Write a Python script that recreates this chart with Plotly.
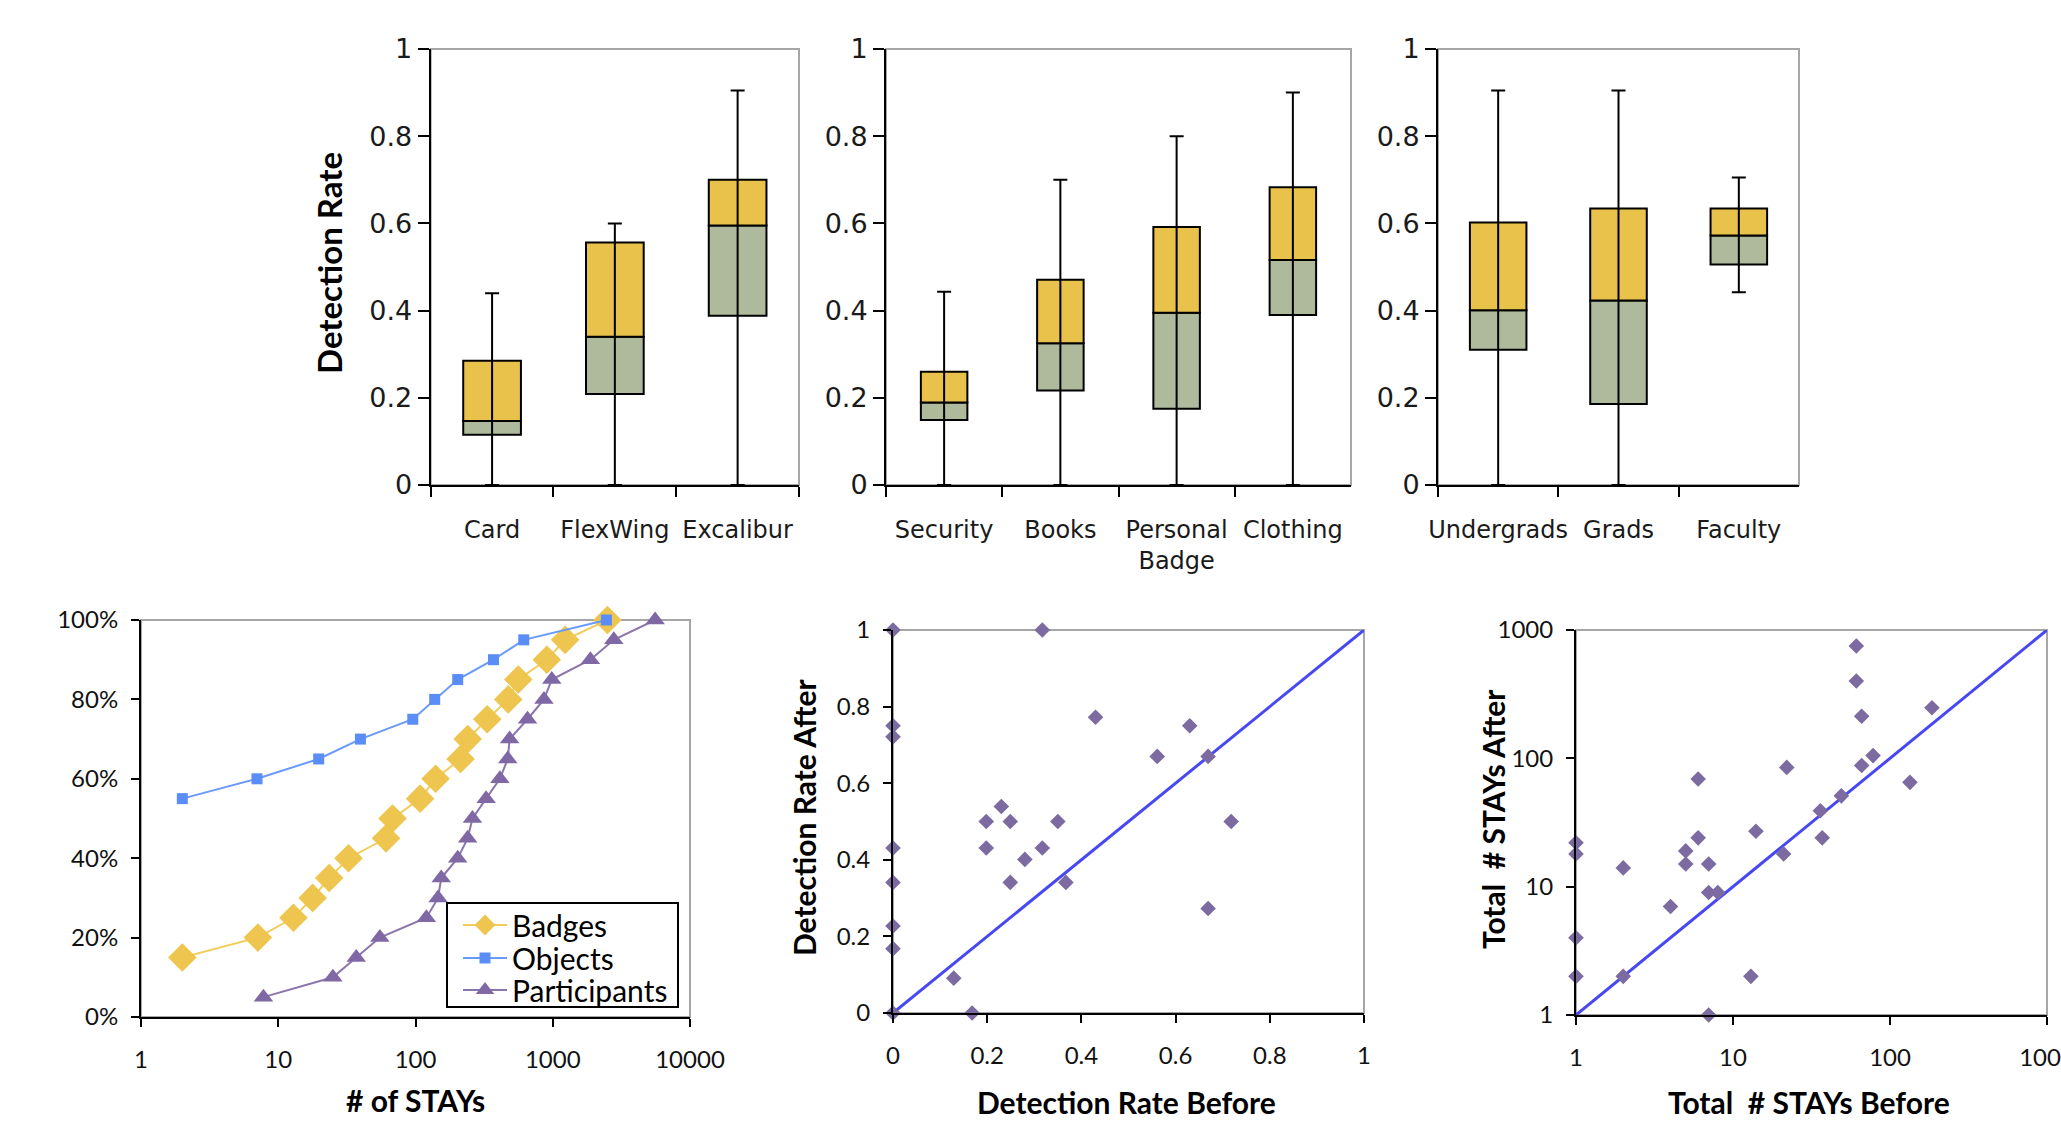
import plotly.graph_objects as go

# ---------------- data ----------------
# Top row: box plots (min, q1, median, q3, max)
cat_tag = ["Card", "FlexWing", "Excalibur"]
tag_min = [0.0, 0.0, 0.0]
tag_q1 = [0.115, 0.209, 0.388]
tag_med = [0.147, 0.340, 0.595]
tag_q3 = [0.285, 0.556, 0.700]
tag_max = [0.440, 0.600, 0.905]

cat_obj = ["Security", "Books", "Personal<br>Badge", "Clothing"]
obj_min = [0.0, 0.0, 0.0, 0.0]
obj_q1 = [0.149, 0.217, 0.175, 0.390]
obj_med = [0.189, 0.325, 0.395, 0.516]
obj_q3 = [0.260, 0.471, 0.592, 0.683]
obj_max = [0.443, 0.700, 0.800, 0.900]

cat_grp = ["Undergrads", "Grads", "Faculty"]
grp_min = [0.0, 0.0, 0.442]
grp_q1 = [0.310, 0.186, 0.506]
grp_med = [0.401, 0.423, 0.572]
grp_q3 = [0.602, 0.634, 0.634]
grp_max = [0.905, 0.905, 0.705]

# Bottom-left: cumulative distributions of # of STAYs
badges_x = [2.0, 7.1, 12.9, 17.8, 23.5, 32.5, 61, 68, 108, 140, 213, 240, 333, 474, 561, 905, 1230, 2500]
badges_y = [15, 20, 25, 30, 35, 40, 45, 50, 55, 60, 65, 70, 75, 80, 85, 90, 95, 100]
objects_x = [2.0, 7.0, 19.7, 39.7, 95.5, 138, 203, 370, 615, 2460]
objects_y = [55, 60, 65, 70, 75, 80, 85, 90, 95, 100]
part_x = [7.8, 25, 37, 55, 120, 146, 154, 203, 240, 260, 327, 412, 470, 485, 655, 863, 984, 1880, 2785, 5570]
part_y = [5, 10, 15, 20, 25, 30, 35, 40, 45, 50, 55, 60, 65, 70, 75, 80, 85, 90, 95, 100]
stay_ticks = [1, 10, 100, 1000, 10000]
stay_ticktext = ["1", "10", "100", "1000", "10000"]
pct_ticks = [0, 20, 40, 60, 80, 100]
pct_ticktext = ["0%", "20%", "40%", "60%", "80%", "100%"]

# Bottom-middle: detection rate before vs after
rate_before = [0.0, 0.317, 0.0, 0.0, 0.430, 0.630, 0.561, 0.669, 0.230, 0.198, 0.249, 0.350,
               0.718, 0.0, 0.198, 0.317, 0.280, 0.0, 0.249, 0.367, 0.669, 0.0, 0.0, 0.129, 0.168, 0.0]
rate_after = [1.0, 1.0, 0.75, 0.721, 0.772, 0.75, 0.670, 0.670, 0.539, 0.5, 0.5, 0.5,
              0.5, 0.431, 0.431, 0.431, 0.401, 0.341, 0.341, 0.341, 0.273, 0.227, 0.168, 0.091, 0.0, 0.0]
rate_diag = [0, 1]

# Bottom-right: total # STAYs before vs after
stays_before = [1, 1, 1, 1, 2, 2, 4, 5, 5, 6, 6, 7, 7, 8, 7, 13, 14, 22, 21, 36, 37, 49,
                61, 61, 66, 66, 78, 134, 185]
stays_after = [22, 18, 4, 2, 14, 2, 7, 19, 15, 69, 24, 15, 9, 9, 1, 2, 27, 85, 18, 39, 24, 51,
               750, 400, 213, 88, 105, 65, 248]
stays_diag = [1, 1000]
log_ticks3 = [1, 10, 100, 1000]
log_ticktext3 = ["1", "10", "100", "1000"]

# ---------------- style ----------------
W, H = 2061, 1123
YELLOW = "#E9C24B"
GREEN = "#AFBA9D"
PURPLE = "#7B6BA0"
DIAG = "#4848F2"
BORDER = "#A6A6A6"


def fx(p):
    return p / W


def fy(p):
    return 1 - p / H


fig = go.Figure()

box_sets = [
    (cat_tag, tag_min, tag_q1, tag_med, tag_q3, tag_max, "x", "y", 0.47),
    (cat_obj, obj_min, obj_q1, obj_med, obj_q3, obj_max, "x2", "y2", 0.40),
    (cat_grp, grp_min, grp_q1, grp_med, grp_q3, grp_max, "x3", "y3", 0.47),
]
for cats, lo, q1, med, q3, hi, xa, ya, w in box_sets:
    n = len(cats)
    fig.add_trace(go.Bar(
        x=cats, y=[m - a for m, a in zip(med, q1)], base=q1, width=[w] * n,
        marker=dict(color=GREEN, line=dict(color="black", width=2)),
        xaxis=xa, yaxis=ya, showlegend=False, hoverinfo="skip"))
    fig.add_trace(go.Bar(
        x=cats, y=[b - m for b, m in zip(q3, med)], base=med, width=[w] * n,
        marker=dict(color=YELLOW, line=dict(color="black", width=2)),
        xaxis=xa, yaxis=ya, showlegend=False, hoverinfo="skip"))
    fig.add_trace(go.Scatter(
        x=cats, y=hi, mode="markers", marker=dict(size=1, color="rgba(0,0,0,0)"),
        error_y=dict(type="data", symmetric=False, array=[0] * n,
                     arrayminus=[h - l for h, l in zip(hi, lo)],
                     width=7, thickness=2, color="black"),
        xaxis=xa, yaxis=ya, showlegend=False, hoverinfo="skip"))

# bottom-left CDFs (each in its own legend so the entries can sit close together)
fig.add_trace(go.Scatter(
    x=badges_x, y=badges_y, mode="lines+markers", name="Badges",
    line=dict(color="#F2CD5C", width=2),
    marker=dict(symbol="diamond", size=22, color="#EEC54E"),
    xaxis="x4", yaxis="y4", cliponaxis=False, legend="legend"))
fig.add_trace(go.Scatter(
    x=objects_x, y=objects_y, mode="lines+markers", name="Objects",
    line=dict(color="#6A9AF9", width=2),
    marker=dict(symbol="square", size=11, color="#5A8DF7"),
    xaxis="x4", yaxis="y4", cliponaxis=False, legend="legend2"))
fig.add_trace(go.Scatter(
    x=part_x, y=part_y, mode="lines+markers", name="Participants",
    line=dict(color="#8A76AC", width=2),
    marker=dict(symbol="triangle-up", size=17, color="#7F68A4"),
    xaxis="x4", yaxis="y4", cliponaxis=False, legend="legend3"))

# bottom-middle scatter
fig.add_trace(go.Scatter(
    x=rate_diag, y=rate_diag, mode="lines", line=dict(color=DIAG, width=3),
    xaxis="x5", yaxis="y5", showlegend=False, hoverinfo="skip"))
fig.add_trace(go.Scatter(
    x=rate_before, y=rate_after, mode="markers",
    marker=dict(symbol="diamond", size=12, color=PURPLE),
    xaxis="x5", yaxis="y5", showlegend=False, cliponaxis=False))

# bottom-right scatter
fig.add_trace(go.Scatter(
    x=stays_diag, y=stays_diag, mode="lines", line=dict(color=DIAG, width=3),
    xaxis="x6", yaxis="y6", showlegend=False, hoverinfo="skip"))
fig.add_trace(go.Scatter(
    x=stays_before, y=stays_after, mode="markers",
    marker=dict(symbol="diamond", size=12, color=PURPLE),
    xaxis="x6", yaxis="y6", showlegend=False, cliponaxis=False))

TOP_CAT_FONT = dict(family="DejaVu Sans", size=24, color="#1a1a1a")
TOP_NUM_FONT = dict(family="DejaVu Sans", size=27, color="#1a1a1a")
BOT_FONT = dict(family="Lato", size=24, color="#111111")

top_y = [fy(485), fy(49)]
top_x = [[430.7, 799], [886, 1351], [1438, 1799]]
bot_x = [[141, 690], [893, 1364], [1576, 2047]]
bot_y = [[1017, 620], [1013, 630], [1015, 630]]

common = dict(showline=True, linecolor="black", linewidth=2, showgrid=False,
              zeroline=False, ticks="outside", tickcolor="black", tickwidth=2)

LEG_FONT = dict(family="Lato", size=30, color="black")
leg_common = dict(xanchor="left", yanchor="middle", bgcolor="rgba(0,0,0,0)",
                  borderwidth=0, font=LEG_FONT, itemwidth=44)

layout = dict(
    width=W, height=H, margin=dict(l=0, r=0, t=0, b=0, autoexpand=False),
    paper_bgcolor="white", plot_bgcolor="white",
    barmode="overlay", showlegend=True,
    legend=dict(x=fx(458), y=fy(925), **leg_common),
    legend2=dict(x=fx(458), y=fy(958), **leg_common),
    legend3=dict(x=fx(458), y=fy(990), **leg_common),
)

for i, (xd, ya_name) in enumerate(zip(top_x, ["y", "y2", "y3"])):
    xn = "xaxis" if i == 0 else f"xaxis{i+1}"
    yn = "yaxis" if i == 0 else f"yaxis{i+1}"
    layout[xn] = dict(domain=[fx(xd[0]), fx(xd[1])], anchor=ya_name, type="category",
                      tickson="boundaries", ticklen=10, tickfont=TOP_CAT_FONT, tickangle=0,
                      ticklabelstandoff=22, **common)
    layout[yn] = dict(domain=top_y, anchor=("x" if i == 0 else f"x{i+1}"),
                      range=[0, 1], dtick=0.2, tick0=0, ticklen=11,
                      tickfont=TOP_NUM_FONT, ticklabelstandoff=0, **common)

layout["xaxis4"] = dict(domain=[fx(bot_x[0][0]), fx(bot_x[0][1])], anchor="y4", type="log",
                        range=[0, 4], tickvals=stay_ticks, ticktext=stay_ticktext, tickangle=0,
                        ticklen=8, tickfont=BOT_FONT, ticklabelstandoff=12,
                        ticklabeloverflow="allow", **common)
layout["yaxis4"] = dict(domain=[fy(bot_y[0][0]), fy(bot_y[0][1])], anchor="x4",
                        range=[0, 100], tickvals=pct_ticks, ticktext=pct_ticktext,
                        ticklen=8, tickfont=BOT_FONT, ticklabelstandoff=8, **common)
layout["xaxis5"] = dict(domain=[fx(bot_x[1][0]), fx(bot_x[1][1])], anchor="y5",
                        range=[0, 1], dtick=0.2, tick0=0, tickangle=0,
                        ticklen=8, tickfont=BOT_FONT, ticklabelstandoff=12, **common)
layout["yaxis5"] = dict(domain=[fy(bot_y[1][0]), fy(bot_y[1][1])], anchor="x5",
                        range=[0, 1], dtick=0.2, tick0=0,
                        ticklen=8, tickfont=BOT_FONT, ticklabelstandoff=8, **common)
layout["xaxis6"] = dict(domain=[fx(bot_x[2][0]), fx(bot_x[2][1])], anchor="y6", type="log",
                        range=[0, 3], tickvals=log_ticks3, ticktext=log_ticktext3, tickangle=0,
                        ticklen=8, tickfont=BOT_FONT, ticklabelstandoff=12,
                        ticklabeloverflow="allow", **common)
layout["yaxis6"] = dict(domain=[fy(bot_y[2][0]), fy(bot_y[2][1])], anchor="x6", type="log",
                        range=[0, 3], tickvals=log_ticks3, ticktext=log_ticktext3,
                        ticklen=8, tickfont=BOT_FONT, ticklabelstandoff=8, **common)

fig.update_layout(**layout)

# plot-area borders (grey top/right edges)
for xr, yr in [("x", "y"), ("x2", "y2"), ("x3", "y3"), ("x4", "y4"), ("x5", "y5"), ("x6", "y6")]:
    fig.add_shape(type="rect", xref=f"{xr} domain", yref=f"{yr} domain",
                  x0=0, x1=1, y0=0, y1=1, line=dict(color=BORDER, width=2),
                  fillcolor="rgba(0,0,0,0)", layer="below")

# legend frame for the bottom-left chart
fig.add_shape(type="rect", xref="paper", yref="paper",
              x0=fx(447), x1=fx(678), y0=fy(1007), y1=fy(903),
              line=dict(color="black", width=2), fillcolor="white", layer="above")

TITLE_FONT = dict(family="Lato", size=30, color="black")
ann = [
    dict(text="<b>Detection Rate</b>", x=fx(329), y=fy(263), textangle=-90,
         font=dict(family="Lato", size=33, color="black")),
    dict(text="<b># of STAYs</b>", x=fx(415), y=fy(1100), font=TITLE_FONT),
    dict(text="<b>Detection Rate After</b>", x=fx(804), y=fy(818), textangle=-90, font=TITLE_FONT),
    dict(text="<b>Detection Rate Before</b>", x=fx(1126), y=fy(1102), font=TITLE_FONT),
    dict(text="<b>Total\u00a0 # STAYs After</b>", x=fx(1493), y=fy(819), textangle=-90, font=TITLE_FONT),
    dict(text="<b>Total\u00a0 # STAYs Before</b>", x=fx(1809), y=fy(1102), font=TITLE_FONT),
]
for a in ann:
    fig.add_annotation(xref="paper", yref="paper", showarrow=False,
                       xanchor="center", yanchor="middle", **a)

fig.write_html(
    "out.html",
    config={"displayModeBar": False, "responsive": False},
    post_script=("document.documentElement.style.margin='0';"
                 "document.body.style.margin='0';"
                 "document.body.style.overflow='hidden';"
                 "window.scrollTo(0,0);"),
)
